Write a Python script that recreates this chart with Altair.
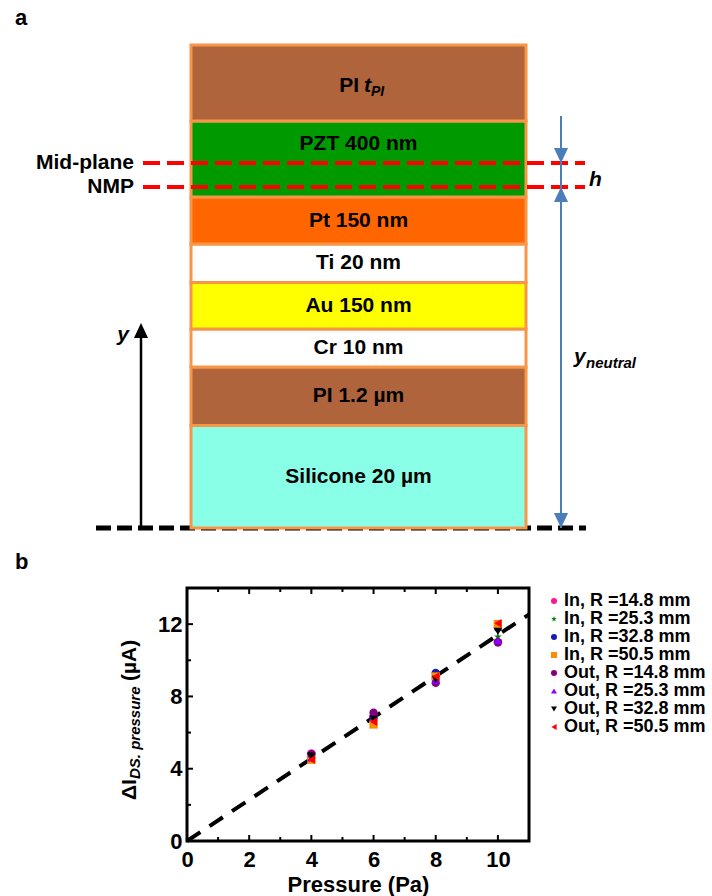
import altair as alt
import numpy as np
import pandas as pd

FONT = "Liberation Sans"
W, H = 712, 896

# ---------------- panel a: layer stack of the flexible device ----------------
# bottom to top; drawn thickness is schematic (not to scale)
layer_names = ["Silicone 20 µm", "PI 1.2 µm", "Cr 10 nm", "Au 150 nm",
               "Ti 20 nm", "Pt 150 nm", "PZT 400 nm", "PI"]
layer_thickness = [102.5, 58.5, 38, 46.5, 38.5, 47, 76, 76]
layer_colors = ["#88FFE6", "#B0643C", "#FFFFFF", "#FFFF00",
                "#FFFFFF", "#FF6600", "#009900", "#B0643C"]

plane_names = ["Mid-plane", "NMP"]
plane_heights = [365, 341]

# ---------------- panel b: pressure response ----------------
pressure = [4, 6, 8, 10]
series_names = ["In, R =14.8 mm", "In, R =25.3 mm", "In, R =32.8 mm", "In, R =50.5 mm",
                "Out, R =14.8 mm", "Out, R =25.3 mm", "Out, R =32.8 mm", "Out, R =50.5 mm"]
in_148 = [4.85, 6.9, 9.0, 11.0]
in_253 = [4.7, 6.75, 9.0, 11.3]
in_328 = [4.6, 6.8, 9.3, 11.8]
in_505 = [4.5, 6.45, 9.1, 12.0]
out_148 = [4.8, 7.1, 8.75, 11.0]
out_253 = [4.6, 6.85, 8.9, 11.1]
out_328 = [4.7, 6.75, 8.95, 11.6]
out_505 = [4.5, 6.6, 9.1, 12.05]
series_values = [in_148, in_253, in_328, in_505, out_148, out_253, out_328, out_505]

STAR = ("M0,-1L0.2245,-0.309L0.951,-0.309L0.363,0.118L0.588,0.809L0,0.382"
        "L-0.588,0.809L-0.363,0.118L-0.951,-0.309L-0.2245,-0.309Z")
series_colors = ["#FF1493", "#008000", "#1A1AB4", "#FF8C00",
                 "#800080", "#8A00FF", "#000000", "#FF0000"]
series_shapes = ["circle", STAR, "circle", "square",
                 "circle", "triangle-up", "triangle-down", "triangle-left"]
fit_slope = 1.14

# ====================== panel a ======================
cum = np.concatenate([[0], np.cumsum(layer_thickness)])
stack = pd.DataFrame({"name": layer_names, "bottom": cum[:-1], "top": cum[1:],
                      "color": layer_colors})
stack["mid"] = (stack["bottom"] + stack["top"]) / 2
stack_top = float(cum[-1])

ya = alt.Scale(domain=[0, stack_top], range=[528, 45], nice=False, zero=False)
xa = alt.Scale(domain=[0, W], range=[0, W], nice=False, zero=False)


def AY(field):
    return alt.Y(field, scale=ya, axis=None)


def AX(field):
    return alt.X(field, scale=xa, axis=None)


def txt(size=21, italic=False, **kw):
    return dict(font=FONT, fontSize=size, fontWeight="bold",
                fontStyle="italic" if italic else "normal", color="black", **kw)


base_line = alt.Chart(pd.DataFrame({"h": [0.0]})).mark_rule(
    color="black", strokeWidth=5, strokeDash=[15, 6]
).encode(x=alt.value(96), x2=alt.value(586), y=AY("h:Q"))

rects = alt.Chart(stack).mark_rect(stroke="#F79646", strokeWidth=3).encode(
    x=alt.value(191), x2=alt.value(526), y=AY("bottom:Q"), y2="top:Q",
    fill=alt.Fill("color:N", scale=None),
)

plain = stack[~stack["name"].isin(["PZT 400 nm", "PI"])]
layer_text = alt.Chart(plain).mark_text(**txt(baseline="middle")).encode(
    x=alt.value(358.5), y=AY("mid:Q"), text="name:N")

pzt = stack[stack["name"] == "PZT 400 nm"].assign(ty=lambda d: d["top"] - 23)
pzt_text = alt.Chart(pzt).mark_text(**txt(baseline="middle")).encode(
    x=alt.value(358.5), y=AY("ty:Q"), text="name:N")

pi_top = stack[stack["name"] == "PI"].assign(ty=lambda d: d["mid"] - 3)
pi_a = alt.Chart(pi_top).mark_text(**txt(baseline="middle", align="right")).encode(
    x=alt.value(359), y=AY("ty:Q"), text="name:N")
pi_b = alt.Chart(pi_top).mark_text(**txt(italic=True, baseline="middle", align="left")).encode(
    x=alt.value(364), y=AY("ty:Q"), text=alt.value("t"))
pi_c = alt.Chart(pi_top).mark_text(**txt(size=14, italic=True, baseline="middle",
                                         align="left", dy=6)).encode(
    x=alt.value(371), y=AY("ty:Q"), text=alt.value("PI"))

planes = pd.DataFrame({"name": plane_names, "h": plane_heights})
plane_lines = alt.Chart(planes).mark_rule(
    color="#FF0000", strokeWidth=4, strokeDash=[17, 7]
).encode(x=alt.value(143), x2=alt.value(585), y=AY("h:Q"))
plane_text = alt.Chart(planes).mark_text(**txt(baseline="middle", align="right")).encode(
    x=alt.value(134), y=AY("h:Q"), text="name:N")

# dimension arrows: black y-axis and blue h / y_neutral markers
UP = "M0,0L0.47,1L-0.47,1Z"
DOWN = "M0,0L0.47,-1L-0.47,-1Z"
y_arrow_tip = 205
blue_top = 412
black_shaft = alt.Chart(pd.DataFrame({"a": [0.0], "b": [y_arrow_tip - 10.0]})).mark_rule(
    color="black", strokeWidth=2.5).encode(x=alt.value(141), y=AY("a:Q"), y2="b:Q")
blue_shaft = alt.Chart(pd.DataFrame({"a": [0.0], "b": [float(blue_top)]})).mark_rule(
    color="#4A7EBB", strokeWidth=2).encode(x=alt.value(561), y=AY("a:Q"), y2="b:Q")
heads = pd.DataFrame({
    "x": [141, 561, 561, 561],
    "y": [y_arrow_tip, plane_heights[0], plane_heights[1], 0],
    "shape": [UP, DOWN, UP, DOWN],
    "col": ["#000000", "#4A7EBB", "#4A7EBB", "#4A7EBB"],
})
arrow_heads = alt.Chart(heads).mark_point(filled=True, size=900, opacity=1).encode(
    x=AX("x:Q"), y=AY("y:Q"),
    shape=alt.Shape("shape:N", scale=None), color=alt.Color("col:N", scale=None))

h_text = alt.Chart(pd.DataFrame({"y": [348]})).mark_text(
    **txt(italic=True, baseline="middle", align="left")).encode(
    x=alt.value(589), y=AY("y:Q"), text=alt.value("h"))
y_text = alt.Chart(pd.DataFrame({"y": [193]})).mark_text(
    **txt(italic=True, baseline="middle", align="right")).encode(
    x=alt.value(129), y=AY("y:Q"), text=alt.value("y"))
yn_text = alt.Chart(pd.DataFrame({"y": [171]})).mark_text(
    **txt(italic=True, baseline="middle", align="left")).encode(
    x=alt.value(574), y=AY("y:Q"), text=alt.value("y"))
yn_sub = alt.Chart(pd.DataFrame({"y": [165]})).mark_text(
    **txt(size=15, italic=True, baseline="middle", align="left")).encode(
    x=alt.value(586), y=AY("y:Q"), text=alt.value("neutral"))

panel_letters = alt.Chart(pd.DataFrame({"t": ["a", "b"], "py": [18, 562]})).mark_text(
    **txt(size=22, baseline="middle", align="left")).encode(
    x=alt.value(15), y=alt.Y("py:Q", scale=xa, axis=None), text="t:N")

# ====================== panel b ======================
X_MAX, Y_MAX = 11, 14
xs = alt.Scale(domain=[0, X_MAX], range=[187, 529], nice=False, zero=False)
ys = alt.Scale(domain=[0, Y_MAX], range=[841, 588], nice=False, zero=False)
x_px = (529 - 187) / X_MAX
y_px = (841 - 588) / Y_MAX

rows = []
for k, (name, vals) in enumerate(zip(series_names, series_values)):
    for p, v in zip(pressure, vals):
        rows.append({"series": name, "p": p, "i": v, "k": k})
scatter = pd.DataFrame(rows)

frame = alt.Chart(pd.DataFrame({"x0": [0], "x1": [X_MAX], "y0": [0], "y1": [Y_MAX]})).mark_rect(
    fillOpacity=0, stroke="black", strokeWidth=3).encode(
    x=alt.X("x0:Q", scale=xs, axis=None), x2="x1:Q",
    y=alt.Y("y0:Q", scale=ys, axis=None), y2="y1:Q")

# inward ticks on bottom/top (every pressure unit) and left (every 2 µA)
xt = pd.DataFrame({"v": np.arange(1, X_MAX)})
xt["len"] = np.where(xt["v"] % 2 == 0, 6, 4) / y_px
xt_b = xt.assign(a=0.0, b=xt["len"])
xt_t = xt.assign(a=float(Y_MAX), b=Y_MAX - xt["len"])
ticks_x = alt.Chart(pd.concat([xt_b, xt_t])).mark_rule(color="black", strokeWidth=2).encode(
    x=alt.X("v:Q", scale=xs, axis=None), y=alt.Y("a:Q", scale=ys, axis=None), y2="b:Q")
yt = pd.DataFrame({"v": np.arange(2, Y_MAX, 2)})
yt["a"] = 0.0
yt["b"] = np.where(yt["v"] % 4 == 0, 6, 4) / x_px
ticks_y = alt.Chart(yt).mark_rule(color="black", strokeWidth=2).encode(
    y=alt.Y("v:Q", scale=ys, axis=None), x=alt.X("a:Q", scale=xs, axis=None), x2="b:Q")

fit = pd.DataFrame({"p": [0, X_MAX], "i": [0, fit_slope * X_MAX]})
fit_line = alt.Chart(fit).mark_line(color="black", strokeWidth=4, strokeDash=[16, 11]).encode(
    x=alt.X("p:Q", scale=xs, axis=None), y=alt.Y("i:Q", scale=ys, axis=None))

leg = alt.Legend(orient="none", legendX=545, legendY=592, title=None,
                 labelFont=FONT, labelFontSize=18, labelFontWeight="bold", labelColor="black",
                 labelOffset=1, labelLimit=300, symbolSize=36, rowPadding=0,
                 symbolStrokeWidth=0)

points = alt.Chart(scatter).mark_point(filled=True, size=70, opacity=1).encode(
    x=alt.X("p:Q", scale=xs, axis=alt.Axis(
        orient="bottom", offset=-(H - 841), values=[0, 2, 4, 6, 8, 10],
        domain=False, ticks=False, grid=False, labelFlush=False, labelOverlap=False,
        labelFont=FONT, labelFontSize=22, labelFontWeight="bold", labelColor="black",
        labelPadding=8, title="Pressure (Pa)", titleFont=FONT, titleFontSize=22,
        titleFontWeight="bold", titleColor="black", titlePadding=4)),
    y=alt.Y("i:Q", scale=ys, axis=alt.Axis(
        orient="left", offset=-187, values=[0, 4, 8, 12],
        domain=False, ticks=False, grid=False, labelFlush=False, labelOverlap=False,
        labelFont=FONT, labelFontSize=22, labelFontWeight="bold", labelColor="black",
        labelPadding=5, title=None)),
    color=alt.Color("series:N", scale=alt.Scale(domain=series_names, range=series_colors),
                    legend=leg),
    shape=alt.Shape("series:N", scale=alt.Scale(domain=series_names, range=series_shapes),
                    legend=leg),
    order=alt.Order("k:Q"),
)

# y title: ΔI with subscript "DS. pressure", then (µA), read bottom-to-top
yt_main = alt.Chart(pd.DataFrame({"t": ["ΔI", "(µA)"], "py": [800, 681]})).mark_text(
    **txt(size=21, angle=270, align="left", baseline="alphabetic")).encode(
    x=alt.value(136), y=alt.Y("py:Q", scale=xa, axis=None), text="t:N")
yt_sub = alt.Chart(pd.DataFrame({"t": ["DS. pressure"], "py": [779]})).mark_text(
    **txt(size=15, italic=True, angle=270, align="left", baseline="alphabetic")).encode(
    x=alt.value(140), y=alt.Y("py:Q", scale=xa, axis=None), text="t:N")

chart = alt.layer(
    base_line, rects, layer_text, pzt_text, pi_a, pi_b, pi_c,
    plane_lines, plane_text, black_shaft, blue_shaft, arrow_heads,
    h_text, y_text, yn_text, yn_sub, panel_letters,
    fit_line, frame, ticks_x, ticks_y, points, yt_main, yt_sub,
).resolve_scale(
    x="independent", y="independent"
).properties(
    width=W, height=H, padding=0, background="white",
    autosize=alt.AutoSizeParams(type="none"),
).configure_view(strokeWidth=0)

chart.save("out.html", embed_options={"renderer": "svg", "actions": False})
